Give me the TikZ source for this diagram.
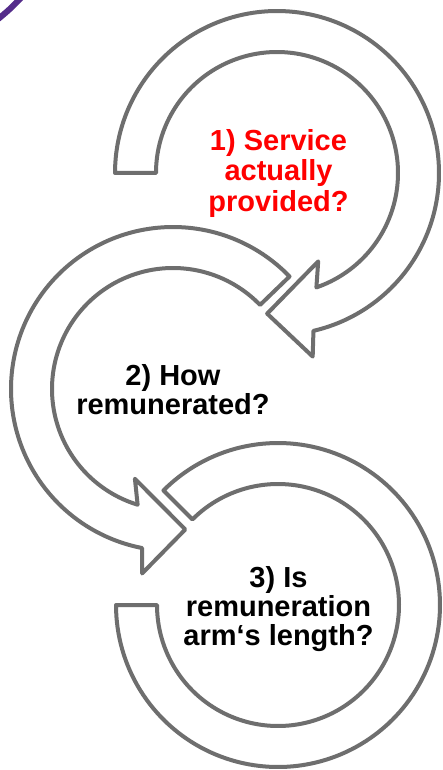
\documentclass[tikz,border=0pt]{standalone}
\usepackage{fontspec}
\setmainfont{Liberation Sans}
\usetikzlibrary{calc}
\definecolor{ringgray}{RGB}{110,110,110}
\definecolor{logopurple}{RGB}{84,44,138}
\definecolor{stepred}{RGB}{255,0,0}

\begin{document}
\begin{tikzpicture}[x=1pt,y=-1pt,
  ring/.style={draw=ringgray, line width=4pt, line join=round, fill=white},
  steptext/.style={font=\fontsize{29}{30}\selectfont\bfseries, anchor=base, inner sep=0pt}]
\useasboundingbox (0,0) rectangle (442,770);

% centres of the three circular arrows (y grows downwards, angles run clockwise)
\coordinate (c1) at (277,173);
\coordinate (c2) at (173,389);
\coordinate (c3) at (278,605);

% corner of a logo ring
\draw[logopurple, line width=6pt] (-3,20) .. controls (9,10) .. (22,-3);

% arrow 1: from the left, clockwise round to the head at the lower right
\draw[ring]
  plot[domain=180:437, samples=140] ({277+162*cos(\x)},{173+162*sin(\x)})
  -- ($(c1)+(439:187)$)
  -- ($(c1)+(454:141)$)
  -- ($(c1)+(425:97.5)$)
  -- plot[domain=431:180, samples=140] ({277+121*cos(\x)},{173+121*sin(\x)})
  -- cycle;

% arrow 2: from the upper right, anticlockwise round to the head at the bottom
\draw[ring]
  plot[domain=316:101, samples=140] ({173+162*cos(\x)},{389+162*sin(\x)})
  -- ($(c2)+(99.5:187)$)
  -- ($(c2)+(85:141)$)
  -- ($(c2)+(113:97.5)$)
  -- plot[domain=107:316, samples=140] ({173+121*cos(\x)},{389+121*sin(\x)})
  -- cycle;

% arrow 3: from the upper left, clockwise round to a flat end at the left
\draw[ring]
  plot[domain=225:540, samples=160] ({278+162*cos(\x)},{605+162*sin(\x)})
  -- plot[domain=540:225, samples=160] ({278+121*cos(\x)},{605+121*sin(\x)})
  -- cycle;

% step 1
\node[steptext, text=stepred] (s1a) at (278.5,151) {1) Service};
\node[steptext, text=stepred] (s1b) at (278.5,181) {actually};
\node[steptext, text=stepred] (s1c) at (278.5,211) {provided?};

% step 2
\node[steptext] (s2a) at (173,385) {2) How};
\node[steptext] (s2b) at (173,414) {remunerated?};

% step 3
\node[steptext] (s3a) at (278.5,587) {3) Is};
\node[steptext] (s3b) at (278.5,616) {remuneration};
\node[steptext] (s3c) at (278.5,645) {arm‘s length?};
\end{tikzpicture}
\end{document}
